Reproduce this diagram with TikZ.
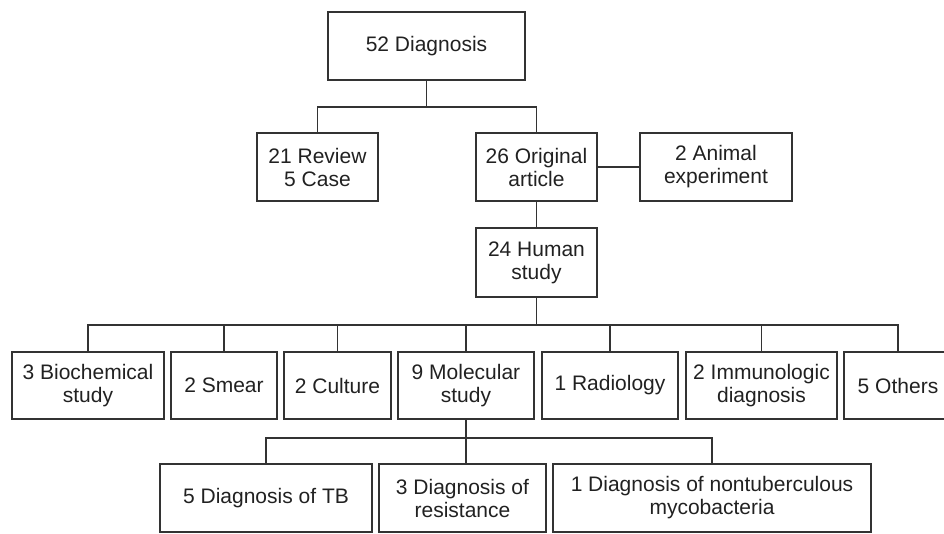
\documentclass[tikz,border=0pt]{standalone}
\usepackage{fontspec}
\setmainfont{Liberation Sans}
\definecolor{linecol}{gray}{0.2}
\definecolor{textcol}{gray}{0.13}
\begin{document}
\begin{tikzpicture}[x=1pt,y=-1pt,
  box/.style={draw=linecol, line width=1.3pt, align=center, inner sep=0pt,
    font=\fontsize{21}{23}\selectfont, text=textcol},
  conn/.style={draw=linecol, line width=1.3pt}]
\clip (0,0) rectangle (944,533);
% level 0
\node[box, minimum width=197pt, minimum height=68pt] (diag) at (426.5,46) {52 Diagnosis};
% level 1
\node[box, minimum width=121pt, minimum height=68pt] (review) at (317.5,167) {21 Review\\5 Case};
\node[box, minimum width=121pt, minimum height=68pt] (orig) at (536.5,167) {26 Original\\article};
\node[box, minimum width=152pt, minimum height=68pt] (animal) at (716,167) {2 Animal\\experiment};
% level 2
\node[box, minimum width=121pt, minimum height=69pt] (human) at (536.5,262.5) {24 Human\\study};
% level 3
\node[box, minimum width=152pt, minimum height=67pt] (bio) at (88,385.5) {3 Biochemical\\study};
\node[box, minimum width=106pt, minimum height=67pt] (smear) at (224,385.5) {2 Smear};
\node[box, minimum width=107pt, minimum height=67pt] (cult) at (337.5,385.5) {2 Culture};
\node[box, minimum width=136pt, minimum height=67pt] (mol) at (466,385.5) {9 Molecular\\study};
\node[box, minimum width=136pt, minimum height=67pt] (rad) at (610,385.5) {1 Radiology};
\node[box, minimum width=151pt, minimum height=67pt] (imm) at (761.5,385.5) {2 Immunologic\\diagnosis};
\node[box, minimum width=108pt, minimum height=67pt] (oth) at (898,385.5) {5 Others};
% level 4
\node[box, minimum width=212pt, minimum height=68pt] (tb) at (266,498) {5 Diagnosis of TB};
\node[box, minimum width=167pt, minimum height=68pt] (res) at (462.5,498) {3 Diagnosis of\\resistance};
\node[box, minimum width=318pt, minimum height=68pt] (ntm) at (712,498) {1 Diagnosis of nontuberculous\\mycobacteria};
% bus levels
\coordinate (bus1) at (0,107);
\coordinate (bus2) at (0,325);
\coordinate (bus3) at (0,438);
% connectors
\draw[conn] (diag.south) -- (diag.south |- bus1);
\draw[conn] (review.north) -- (review.north |- bus1) -- (orig.north |- bus1) -- (orig.north);
\draw[conn] (orig.east) -- (animal.west);
\draw[conn] (orig.south) -- (human.north);
\draw[conn] (human.south) -- (human.south |- bus2);
\draw[conn] (bio.north) -- (bio.north |- bus2) -- (oth.north |- bus2) -- (oth.north);
\foreach \n in {smear,cult,mol,rad,imm}
  \draw[conn] (\n.north) -- (\n.north |- bus2);
\draw[conn] (mol.south) -- (mol.south |- res.north);
\draw[conn] (tb.north) -- (tb.north |- bus3) -- (ntm.north |- bus3) -- (ntm.north);
\end{tikzpicture}
\end{document}
